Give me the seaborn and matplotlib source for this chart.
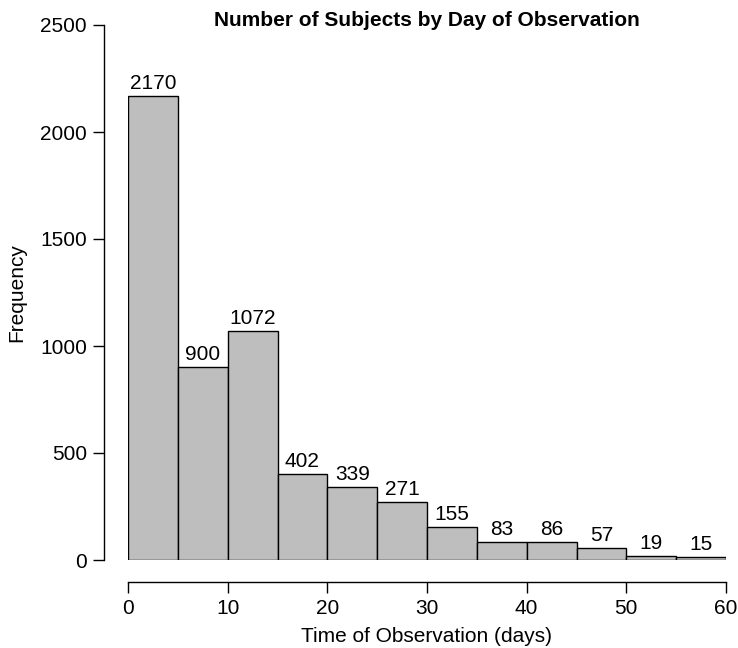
import numpy as np
import pandas as pd
import matplotlib
matplotlib.use("Agg")
import matplotlib.pyplot as plt
import seaborn as sns

# Histogram bins (days) and subject counts per bin
bin_edges = [0, 5, 10, 15, 20, 25, 30, 35, 40, 45, 50, 55, 60]
counts = [2170, 900, 1072, 402, 339, 271, 155, 83, 86, 57, 19, 15]
x_ticks = [0, 10, 20, 30, 40, 50, 60]
y_ticks = [0, 500, 1000, 1500, 2000, 2500]

sns.set_theme(style="ticks")
plt.rcParams["font.family"] = ["Liberation Sans", "DejaVu Sans"]
plt.rcParams["text.color"] = "black"
plt.rcParams["axes.labelcolor"] = "black"

mids = [(a + b) / 2 for a, b in zip(bin_edges[:-1], bin_edges[1:])]
df = pd.DataFrame({"day": mids, "n": counts})

DPI = 100
px = 72 / DPI  # points per pixel

fig = plt.figure(figsize=(7.38, 6.48), dpi=DPI)
ax = fig.add_axes([128 / 738, 88 / 648, 598 / 738, 535 / 648])

sns.histplot(data=df, x="day", weights="n", bins=bin_edges, ax=ax,
             color="#bebebe", alpha=1, edgecolor="black", linewidth=1.0)

for m, c in zip(mids, counts):
    ax.annotate(str(c), (m, c), xytext=(0, 3 * px), textcoords="offset points",
                ha="center", va="bottom", fontsize=15, color="black")

ax.set_xlim(0, 60)
ax.set_ylim(0, 2500)
ax.set_xticks(x_ticks)
ax.set_yticks(y_ticks)
ax.tick_params(axis="both", labelsize=15, length=11 * px, width=1.0,
               color="black", labelcolor="black")
ax.tick_params(axis="x", pad=6 * px)
ax.tick_params(axis="y", pad=6 * px)
for side in ("top", "right"):
    ax.spines[side].set_visible(False)
ax.spines["left"].set_position(("outward", 24 * px))
ax.spines["bottom"].set_position(("outward", 22 * px))
for side in ("left", "bottom"):
    ax.spines[side].set_linewidth(1.0)
    ax.spines[side].set_color("black")

ax.set_xlabel("Time of Observation (days)", fontsize=15)
ax.set_ylabel("Frequency", fontsize=15)
ax.xaxis.set_label_coords(0.5, -(627 - 560) / 535)
ax.yaxis.set_label_coords(-(128 - 26) / 598, 0.5)
ax.set_title("Number of Subjects by Day of Observation", fontsize=15,
             fontweight="bold", y=1.0, pad=-1 * px, color="black")

fig.savefig("out.png", dpi=DPI)
